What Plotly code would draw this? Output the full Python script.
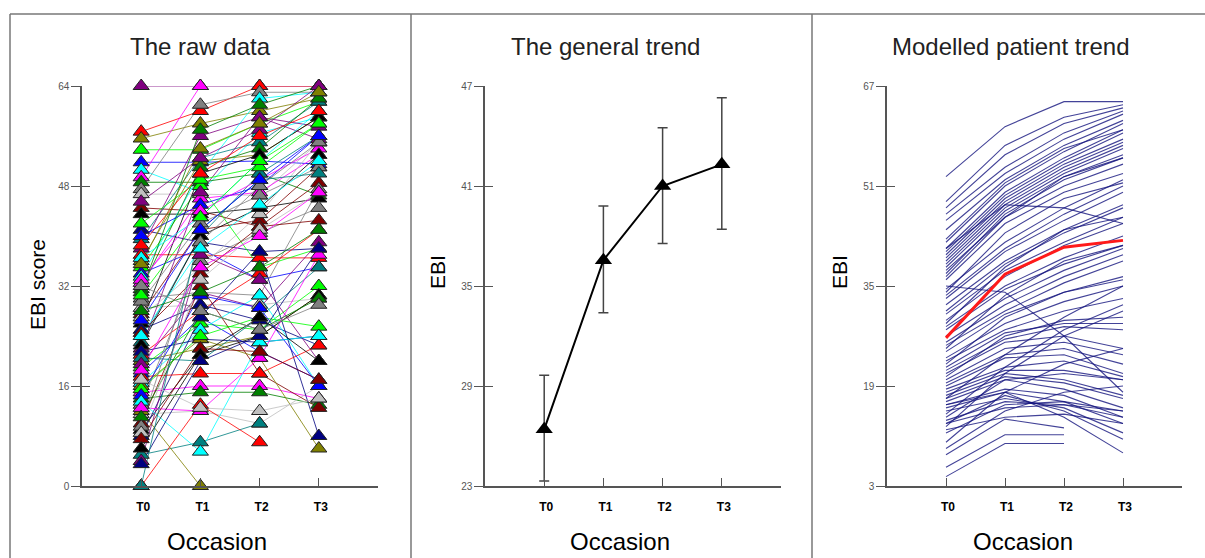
import plotly.graph_objects as go

# ---------------- data ----------------
occasions = ["T0", "T1", "T2", "T3"]

# raw data: one row per patient -> T0, T1, T2, T3 (None = missing)
raw_t0 = [64, 56.7, 55.6, 53.8, 51.8, 50.6, 49.4, 48.6, 47.5, 46.7, 44.5, 43.5, 41, 39.5, 38, 37, 36, 35, 34, 33.5,
          32.5, 31.5, 30, 28.5, 27.5, 26, 25, 23, 22, 21, 20, 19, 18, 16.5, 15, 14, 13, 11.5, 10, 9,
          8, 5, 4, 0, 12, 42, 40, 36.5, 33, 31, 29.5, 27, 24.5, 22.5, 21.5, 20.5, 19.5, 17.5, 16, 15.5,
          14.5, 13.5, 12.5, 11, 9.5, 8.5, 7.5, 6, 3.5, 0, 45.5, 38.5, 35.5, 30.5, 26.5, 24, 18.5, 28, 32, 17]
raw_t1 = [64, 60, 58, 53.8, 51.8, 47, 64, 48.6, 61, 46.7, 44, 43.5, 39, 52.5, 56, 37, 52, 48, 38, 50,
          46, 51, 31, 29, 41, 50, 29, 40, 47, 28, 22, 26, 27, 25, 16, 15, 36, 12, 32, 21,
          27, 7, 37, 13, 0, 49, 45, 43, 44, 57, 42, 35, 34, 40, 23.5, 20, 31, 18, 23.5, 24,
          30.5, 5.5, 12, 28, 39, 33, 22, 21, 20, 41, 52.5, 50, 54, 43, 41, 38, 35, 31, 28, 12.5]
raw_t2 = [64, 64, 60, 58, 52, 56.5, None, 50, 63, 46.5, 41.5, 44.5, 37.5, 55, 59, 36.5, 53, 35, 33, 62,
          47, 54, 30.5, 29, 42.5, 53, 26.5, 50, 59, 34, 24, 25, 21.5, 30.5, 16, 15, 40.5, 10, 18, 24,
          37.5, 10, 33, 7, None, 51, 48, 52, 49, 61, 46.5, 43.5, 41.5, 44.5, 23, 27, 28.5, 18, 20.5, 27,
          28.5, 23, 20.5, 25, 48, 41, 21.5, 27, 24, 49, 57, 56, 58, 52, 49, 45, 40, 35, 25, 12]
raw_t3 = [64, 64, 62, 61.5, 51.5, 59, None, 46.5, 63, 55, 48.5, 46, 38, 61.5, 57.5, 36.5, 59, 38, 35, 63,
          53, 62, 47.5, 30, 51, 59, 22.5, 56, 55.5, 41, 30.5, 32, 17, 16, 14, 13, 44.5, 16, 12.5, 30.5,
          8, None, 20, None, None, 58, 56, 60, 54, 64, 51, 55, 42.5, 53, 24, 35, 39, 22.5, 6, 25.5,
          16, 24, 37, 30, 55, 47, 17, 20, 38, 50, 64, 60, 63, 58, 56, 52, 47, 41, 29, 14]

# general trend (mean with interval)
trend_mean = [26.4, 36.55, 41.0, 42.3]
trend_upper = [29.65, 39.8, 44.5, 46.3]
trend_lower = [23.3, 33.4, 37.55, 38.4]

# modelled patient trends: T0, T1, T2, T3
model_t0 = [52.5, 48.5, 47.5, 46.5, 45.5, 44, 42, 41, 40.5, 40, 39.5, 39, 38.5, 38, 37, 36.5, 36, 41, 34.5, 33.5,
            33, 32, 31, 30.5, 29.5, 28.5, 28, 27, 26, 25.5, 35, 24.5, 23.5, 23, 22, 21.5, 21, 20, 19.5, 19,
            18.5, 18, 17.5, 17, 16.5, 16, 15.5, 15, 14, 13.5, 13, 12, 8, 6, 4.5, 17, 14.5, 12.5, 10, 9,
            16, 13, 42.5, 37.5, 34, 29, 25, 22.5, 20.5, 11.5]
model_t1 = [60.5, 57.5, 56, 54, 53, 52, 51, 50, 49.5, 49, 48.5, 48, 47.5, 47, 46.5, 46, 45, 48, 42, 41,
            40.5, 39, 38.5, 37.5, 36.5, 35, 34.5, 33, 32, 31, 34, 30.5, 29, 28, 27.5, 26.5, 26, 25, 24, 23.5,
            22, 21.5, 21, 20.5, 20, 18.5, 18, 17, 20, 16.5, 15.5, 14, 13.7, 11.2, 9.8, 24, 22, 21, 18, 15,
            18, 17.5, 51.5, 46, 43.5, 38, 33.5, 30, 27, 16]
model_t2 = [64.5, 62, 61, 59.5, 58.5, 57.5, 56.5, 55.5, 55, 54.5, 54, 53.5, 53, 52.5, 52, 51, 50, 47.5, 47.5, 46.5,
            45.5, 44, 43.5, 42, 41.5, 39.5, 38.5, 37.5, 36.5, 35.5, 27, 34, 32.5, 31, 29, 28.5, 27, 26, 25, 24,
            23, 21.5, 20, 19.5, 18.5, 17.5, 16.5, 15.5, 21, 16, 16, 14.5, 12.3, 11.2, 9.8, 30, 28, 27, 22.5, 18,
            14, 15, 57, 52.5, 49, 44, 39, 34, 29.5, 16.5]
model_t3 = [64.5, 64, 63.5, 63, 62.5, 61.5, 61, 60, 59.5, 58.5, 58, 57.5, 57, 56, 55.5, 54.5, 53, 45, 52, 51,
            50, 48, 47.5, 46, 45, 43, 41.5, 41, 40, 39, 18, 36.5, 35, 33, 29, 28, 25, 24, 22.5, 21,
            20.5, 20, 17.5, 17, 15.5, 14, 13, 11.5, 20, 14, 15, 13, None, None, None, 35, 32, 31, 25, 19,
            8.3, 10.5, 60, 55.5, 51.5, 46, 41.5, 36, 30, 15]
model_mean = [26.7, 36.9, 41.2, 42.3]

# ---------------- styling ----------------
palette = ["#800080", "#FF0000", "#808000", "#00FF00", "#0000FF", "#00FFFF", "#FF00FF",
           "#008000", "#808080", "#C0C0C0", "#800000", "#000000", "#000080", "#008080"]
FONT = "Arial, Liberation Sans, sans-serif"
W, H = 1205, 558
AXIS_COL = "#555555"


def px(x):
    return x / W


def py(y):
    return 1 - y / H


xs = [0, 1, 2, 3]
fig = go.Figure()

# ---- panel 1: raw data ----
n = len(raw_t0)
for i in range(n):
    ys = [raw_t0[i], raw_t1[i], raw_t2[i], raw_t3[i]]
    fig.add_trace(go.Scatter(x=xs, y=ys, mode="lines", connectgaps=True,
                             line=dict(color=palette[i % len(palette)], width=1),
                             opacity=0.8, xaxis="x", yaxis="y", showlegend=False,
                             hoverinfo="skip", cliponaxis=False))
for k, col in enumerate([raw_t0, raw_t1, raw_t2, raw_t3]):
    mx, my, mc = [], [], []
    for i, v in enumerate(col):
        if v is not None:
            mx.append(xs[k]); my.append(v); mc.append(palette[i % len(palette)])
    fig.add_trace(go.Scatter(x=mx, y=my, mode="markers",
                             marker=dict(symbol="triangle-up", size=14, color=mc,
                                         line=dict(color="#222222", width=1)),
                             xaxis="x", yaxis="y", showlegend=False, cliponaxis=False))

# ---- panel 2: general trend ----
fig.add_trace(go.Scatter(
    x=xs, y=trend_mean, mode="lines+markers",
    line=dict(color="black", width=2),
    marker=dict(symbol="triangle-up", size=15, color="black"),
    error_y=dict(type="data", symmetric=False,
                 array=[u - m for u, m in zip(trend_upper, trend_mean)],
                 arrayminus=[m - l for m, l in zip(trend_mean, trend_lower)],
                 color="#444444", thickness=1.5, width=5),
    xaxis="x2", yaxis="y2", showlegend=False, cliponaxis=False))

# ---- panel 3: modelled patient trends ----
for i in range(len(model_t0)):
    ys = [model_t0[i], model_t1[i], model_t2[i], model_t3[i]]
    fig.add_trace(go.Scatter(x=xs, y=ys, mode="lines",
                             line=dict(color="#15157f", width=1.1), opacity=0.8,
                             xaxis="x3", yaxis="y3", showlegend=False, hoverinfo="skip"))
fig.add_trace(go.Scatter(x=xs, y=model_mean, mode="lines",
                         line=dict(color="#ff1a1a", width=3),
                         xaxis="x3", yaxis="y3", showlegend=False))

# ---------------- axes ----------------
panels = [
    (82, 378, [0, 64], [0, 16, 32, 48, 64]),
    (485, 781, [23, 47], [23, 29, 35, 41, 47]),
    (887, 1182, [3, 67], [3, 19, 35, 51, 67]),
]
ydom = [py(486), py(86)]
layout_axes = {}
for j, (x0, x1, yr, yt) in enumerate(panels):
    sfx = "" if j == 0 else str(j + 1)
    layout_axes["xaxis" + sfx] = dict(
        domain=[px(x0), px(x1)], range=[-1, 4], anchor="y" + sfx,
        tickvals=[0, 1, 2, 3, 4], ticktext=occasions + [""],
        ticks="inside", ticklen=8, tickwidth=1.3, tickcolor=AXIS_COL,
        showline=True, linecolor=AXIS_COL, linewidth=1.5,
        showgrid=False, zeroline=False, ticklabelstandoff=9, ticklabelshift=2,
        tickfont=dict(family=FONT, size=12, color="black", weight="bold"))
    layout_axes["yaxis" + sfx] = dict(
        domain=ydom, range=yr, anchor="x" + sfx,
        tickvals=yt, ticks="outside", ticklen=9, tickwidth=1.2, tickcolor=AXIS_COL,
        showline=True, linecolor=AXIS_COL, linewidth=1.5,
        showgrid=False, zeroline=False,
        tickfont=dict(family=FONT, size=10, color="#555555"))
    # overlay axis giving the inner half of the crossing y ticks
    layout_axes["yaxis" + str(j + 4)] = dict(
        domain=ydom, range=yr, anchor="x" + sfx, overlaying="y" + sfx,
        tickvals=yt, ticks="inside", ticklen=8, tickwidth=1.2, tickcolor=AXIS_COL,
        showticklabels=False, showline=False, showgrid=False, zeroline=False)
    fig.add_trace(go.Scatter(x=[None], y=[None], mode="lines", xaxis="x" + sfx,
                             yaxis="y" + str(j + 4), showlegend=False, hoverinfo="skip"))

# ---------------- text ----------------
annotations = []
for text, cx in [("The raw data", 200), ("The general trend", 605), ("Modelled patient trend", 1011)]:
    annotations.append(dict(text=text, x=px(cx), y=py(47), xref="paper", yref="paper",
                            xanchor="center", yanchor="middle",
                            showarrow=False, font=dict(family=FONT, size=24, color="#222222")))
for cx in [217, 620, 1023]:
    annotations.append(dict(text="Occasion", x=px(cx), y=py(541), xref="paper", yref="paper",
                            xanchor="center", yanchor="middle",
                            showarrow=False, font=dict(family=FONT, size=24, color="black")))
for text, cx, cy in [("EBI score", 37, 285), ("EBI", 438, 272), ("EBI", 840, 272)]:
    annotations.append(dict(text=text, x=px(cx), y=py(cy), xref="paper", yref="paper",
                            xanchor="center", yanchor="middle",
                            showarrow=False, textangle=-90,
                            font=dict(family=FONT, size=21, color="black")))

shape_style = dict(color="#777777", width=1.5)
shapes = [
    dict(type="line", xref="paper", yref="paper", x0=px(10), x1=1, y0=py(14), y1=py(14), line=shape_style),
    dict(type="line", xref="paper", yref="paper", x0=px(10), x1=px(10), y0=py(14), y1=0, line=shape_style),
    dict(type="line", xref="paper", yref="paper", x0=px(411), x1=px(411), y0=py(14), y1=0, line=shape_style),
    dict(type="line", xref="paper", yref="paper", x0=px(812), x1=px(812), y0=py(14), y1=0, line=shape_style),
]

fig.update_layout(width=W, height=H, margin=dict(l=0, r=0, t=0, b=0, autoexpand=False),
                  paper_bgcolor="white", plot_bgcolor="white",
                  annotations=annotations, shapes=shapes, showlegend=False,
                  **layout_axes)

fig.write_html("out.html")
